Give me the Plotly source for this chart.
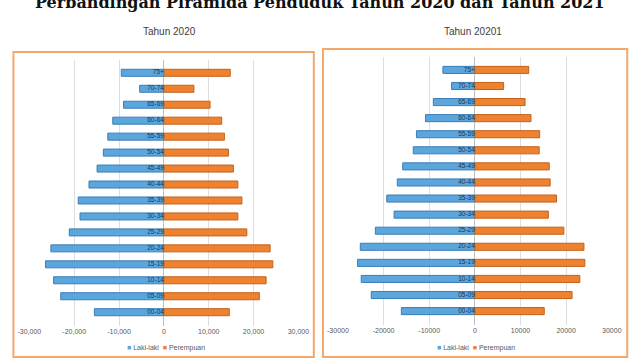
import plotly.graph_objects as go

W, H = 644, 359

age_groups = ["75+", "70-74", "65-69", "60-64", "55-59", "50-54", "45-49", "40-44",
              "35-39", "30-34", "25-29", "20-24", "15-19", "10-14", "05-09", "00-04"]

male_2020 = [9500, 5400, 9000, 11400, 12500, 13500, 14900, 16700,
             19100, 18700, 21100, 25200, 26400, 24600, 23000, 15500]
female_2020 = [14800, 6700, 10300, 12900, 13500, 14400, 15500, 16500,
               17400, 16500, 18500, 23700, 24300, 22800, 21300, 14600]

male_2021 = [7000, 5100, 9100, 10800, 12800, 13500, 15800, 17000,
             19300, 17700, 21800, 25100, 25700, 24900, 22700, 16100]
female_2021 = [11800, 6300, 11000, 12300, 14200, 14100, 16300, 16500,
               17900, 16100, 19500, 23900, 24100, 23000, 21300, 15200]

tick_vals = [-30000, -20000, -10000, 0, 10000, 20000, 30000]
tick_text_2020 = ["-30,000", "-20,000", "-10,000", "0", "10,000", "20,000", "30,000"]
tick_text_2021 = ["-30000", "-20000", "-10000", "0", "10000", "20000", "30000"]

main_title = "Perbandingan Piramida Penduduk Tahun 2020 dan Tahun 2021"
sub_titles = ["Tahun 2020", "Tahun 20201"]
series_names = ["Laki-laki", "Perempuan"]

BLUE = "#5ba6dd"
BLUE_LINE = "#3d7db5"
ORANGE = "#ef8230"
ORANGE_LINE = "#c2621c"
BOX = "#f3a86e"

def px_x(p):
    return p / W

def px_y(p):
    return 1 - p / H

fig = go.Figure()

panels = [
    (male_2020, female_2020, "x", "y"),
    (male_2021, female_2021, "x2", "y2"),
]
for male, female, xa, ya in panels:
    fig.add_trace(go.Bar(y=age_groups, x=[-v for v in male], orientation="h",
                         name=series_names[0], marker=dict(color=BLUE, line=dict(color=BLUE_LINE, width=1)),
                         xaxis=xa, yaxis=ya, showlegend=False, hoverinfo="x+y"))
    fig.add_trace(go.Bar(y=age_groups, x=female, orientation="h",
                         name=series_names[1], marker=dict(color=ORANGE, line=dict(color=ORANGE_LINE, width=1)),
                         xaxis=xa, yaxis=ya, showlegend=False, hoverinfo="x+y"))
    fig.add_trace(go.Scatter(y=age_groups, x=[0] * len(age_groups), mode="text",
                             text=age_groups, textposition="middle left",
                             textfont=dict(size=6.5, color="#1f3550", family="Liberation Sans"),
                             xaxis=xa, yaxis=ya, showlegend=False, hoverinfo="skip"))

axis_common = dict(range=[-30000, 30000], tickvals=tick_vals, showgrid=True,
                   gridcolor="#dedede", gridwidth=1, zeroline=True, zerolinecolor="#bfbfbf",
                   zerolinewidth=1, showline=False, ticks="", fixedrange=True,
                   tickfont=dict(size=7, color="#595959", family="Liberation Sans"))
yaxis_common = dict(type="category", categoryorder="array", categoryarray=age_groups,
                    autorange="reversed", showticklabels=False, showgrid=False,
                    zeroline=False, showline=False, ticks="", fixedrange=True)

fig.update_layout(
    width=W, height=H,
    margin=dict(l=0, r=0, t=0, b=0),
    paper_bgcolor="white", plot_bgcolor="white",
    barmode="relative", bargap=0.56,
    xaxis=dict(domain=[px_x(18), px_x(297)], anchor="y", ticktext=tick_text_2020, **axis_common),
    yaxis=dict(domain=[px_y(325.5), px_y(59.5)], anchor="x", **yaxis_common),
    xaxis2=dict(domain=[px_x(338), px_x(622)], anchor="y2", ticktext=tick_text_2021, **axis_common),
    yaxis2=dict(domain=[px_y(324.5), px_y(56.5)], anchor="x2", **yaxis_common),
)

# Panel frames
fig.add_shape(type="rect", xref="paper", yref="paper",
              x0=px_x(1.5), x1=px_x(313), y0=px_y(357), y1=px_y(52),
              line=dict(color=BOX, width=2))
fig.add_shape(type="rect", xref="paper", yref="paper",
              x0=px_x(322.5), x1=px_x(638), y0=px_y(357), y1=px_y(49),
              line=dict(color=BOX, width=2))

# Main title (partially cut at top, as in the reference)
fig.add_annotation(text="<b>" + main_title + "</b>", xref="paper", yref="paper",
                   x=px_x(319), y=px_y(3), xanchor="center", yanchor="middle",
                   showarrow=False, font=dict(family="DejaVu Serif", size=16, color="#111111"))

# Panel subtitles
for cx, t in zip([163, 478], sub_titles):
    fig.add_annotation(text=t, xref="paper", yref="paper", x=px_x(cx), y=px_y(31),
                       xanchor="center", yanchor="middle", showarrow=False,
                       font=dict(family="Liberation Sans", size=10, color="#404040"))

# Legends (compact, Excel-like)
for cx in [160, 481]:
    legend_text = (f'<span style="color:{BLUE}">■</span> {series_names[0]}  '
                   f'<span style="color:{ORANGE}">■</span> {series_names[1]}')
    fig.add_annotation(text=legend_text, xref="paper", yref="paper", x=px_x(cx), y=px_y(348),
                       xanchor="center", yanchor="middle", showarrow=False,
                       font=dict(family="Liberation Sans", size=7, color="#595959"))

fig.write_html("out.html")
